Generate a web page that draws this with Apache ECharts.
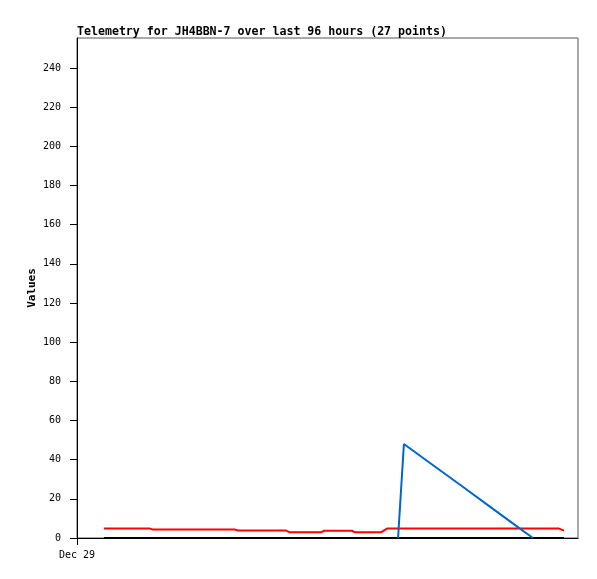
<!DOCTYPE html>
<html>
<head>
<meta charset="utf-8">
<script src="https://cdn.jsdelivr.net/npm/echarts@6/dist/echarts.min.js"></script>
<style>
  html, body { margin: 0; padding: 0; background: #fff; }
  #chart { width: 597px; height: 579px; }
</style>
</head>
<body>
<div id="chart"></div>
<script>
  // hours after Dec 29 00:00, one per telemetry point (27 points)
  const hours = [1.29, 2.06, 3.50, 3.64, 5.89, 7.57, 7.71, 9.01, 10.01, 10.20, 11.69, 11.83, 13.17, 13.32,
    14.04, 14.56, 14.85, 15.38, 15.66, 16.91, 18.35, 19.78, 21.22, 21.84, 22.42, 23.09, 23.33]
  const blackValues = [0, 0, 0, 0, 0, 0, 0, 0, 0, 0, 0, 0, 0, 0, 0, 0, 0, 0, 0, 0, 0, 0, 0, 0, 0, 0, 0]
  const redValues = [4.8, 4.8, 4.8, 4.3, 4.3, 4.3, 3.8, 3.8, 3.8, 2.9, 2.9, 3.7, 3.7, 2.9,
    2.9, 2.9, 4.8, 4.8, 4.8, 4.8, 4.8, 4.8, 4.8, 4.8, 4.8, 4.8, 3.8]
  const blueValues = [null, null, null, null, null, null, null, null, null, null, null, null, null, null,
    null, null, null, 0, 48, 38.3, 27.2, 16.0, 4.8, 0, null, null, null]
  const yTicks = [0, 20, 40, 60, 80, 100, 120, 140, 160, 180, 200, 220, 240]
  const xTicks = [0]
  const xTickLabels = ['Dec 29']

  const FONT = 'DejaVu Sans Mono'

  function pairs(values) {
    return hours.map((h, i) => [h, values[i]])
  }

  function lineSeries(name, values, color) {
    return {
      name: name,
      type: 'line',
      data: pairs(values),
      showSymbol: false,
      symbol: 'none',
      connectNulls: false,
      clip: true,
      lineStyle: {color: color, width: 2},
      itemStyle: {color: color},
      animation: false
    }
  }

  const myChart = echarts.init(document.getElementById('chart'))
  myChart.setOption({
    animation: false,
    title: {
      text: 'Telemetry for JH4BBN-7 over last 96 hours (27 points)',
      left: 77,
      top: 26,
      padding: [0, 0, 0, 0],
      textStyle: {fontFamily: FONT, fontSize: 11.6, fontWeight: 'bold', color: '#000'}
    },
    grid: {
      left: 77,
      right: 19,
      top: 38,
      bottom: 41,
      show: true,
      borderColor: '#555',
      borderWidth: 1,
      backgroundColor: '#fff'
    },
    xAxis: {
      type: 'value',
      min: 0,
      max: 24,
      splitLine: {show: false},
      axisLine: {show: true, onZero: false, lineStyle: {color: '#000', width: 1}},
      axisTick: {show: true, length: 7, customValues: xTicks, lineStyle: {color: '#000'}},
      axisLabel: {
        customValues: xTicks,
        formatter: (v) => xTickLabels[xTicks.indexOf(v)] || '',
        margin: 12,
        fontFamily: FONT,
        fontSize: 10,
        color: '#000'
      }
    },
    yAxis: {
      type: 'value',
      min: 0,
      max: 255.3,
      name: 'Values',
      nameLocation: 'middle',
      nameGap: 39,
      nameRotate: 90,
      nameMoveOverlap: false,
      nameTextStyle: {fontFamily: FONT, fontSize: 11, fontWeight: 'bold', color: '#000'},
      splitLine: {show: false},
      axisLine: {show: true, lineStyle: {color: '#000', width: 1}},
      axisTick: {show: true, length: 7, customValues: yTicks, lineStyle: {color: '#000'}},
      axisLabel: {
        customValues: yTicks,
        margin: 16,
        fontFamily: FONT,
        fontSize: 10,
        color: '#000'
      }
    },
    series: [
      lineSeries('black', blackValues, '#000000'),
      lineSeries('red', redValues, '#ff0000'),
      lineSeries('blue', blueValues, '#0066cc')
    ]
  })
</script>
</body>
</html>
